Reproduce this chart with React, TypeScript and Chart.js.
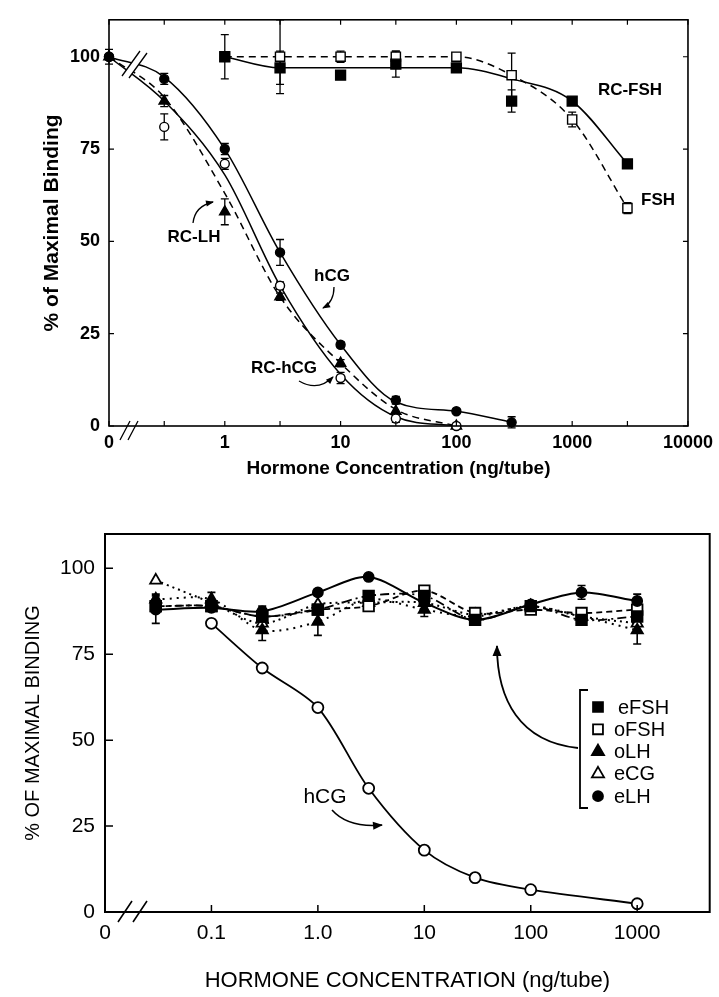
import React, { useEffect, useRef } from 'react';
import { Chart, registerables } from 'chart.js';

Chart.register(...registerables);

const FONT = '"Liberation Sans", Arial, Helvetica, sans-serif';

// ================= Panel A (top) =================
const topXTickValues = [0.1, 0.3, 1, 3, 10, 30, 100, 300, 1000, 3000, 10000];
const topXTickLabels = ['0', '', '1', '', '10', '', '100', '', '1000', '', '10000'];
const topYTickValues = [0, 25, 50, 75, 100];

const hcgDose = [0.1, 0.3, 1, 3, 10, 30, 100, 300];
const hcgBinding = [100, 94, 75, 47, 22, 7, 4, 1];
const hcgSem = [2, 1.5, 1.5, 3.5, 0.8, 1, 0.6, 1.5];
const hcgFit = [100, 94.5, 75, 47, 22, 6.5, 4, 1];

const rcHcgDose = [0.1, 0.3, 1, 3, 10, 30, 100];
const rcHcgBinding = [100, 81, 71, 38, 13, 2, 0];
const rcHcgSem = [0, 3.5, 1.5, 1, 1.5, 1, 0];
const rcHcgFit = [100, 88, 68, 38, 14, 2.5, 0];

const rcLhDose = [0.1, 0.3, 1, 3, 10, 30, 100];
const rcLhBinding = [100, 88, 58, 35, 17, 4, 0];
const rcLhSem = [0, 1.5, 3.5, 1, 1, 2, 0];
const rcLhFit = [100, 89, 63, 35, 17, 4.5, 0];

const rcFshDose = [1, 3, 10, 30, 100, 300, 1000, 3000];
const rcFshBinding = [100, 97, 95, 98, 97, 88, 88, 71];
const rcFshSem = [6, 4.5, 1, 3.5, 0.5, 3, 0.5, 0.5];
const rcFshFit = [100, 97, 97, 97, 97, 94, 88, 71];

const fshDose = [1, 3, 10, 30, 100, 300, 1000, 3000];
const fshBinding = [100, 100, 100, 100, 100, 95, 83, 59];
const fshSem = [0, 10, 1.5, 1.5, 1, 6, 2, 1.5];
const fshFit = [100, 100, 100, 100, 100, 95, 83, 59];

// ================= Panel B (bottom) =================
const botXTickValues = [0.01, 0.1, 1, 10, 100, 1000];
const botXTickLabels = ['0', '0.1', '1.0', '10', '100', '1000'];
const botYTickValues = [0, 25, 50, 75, 100];

const botDose = [0.03, 0.1, 0.3, 1, 3, 10, 30, 100, 300, 1000];
const eFshBinding = [89, 89, 86, 88, 92, 92, 85, 89, 85, 86];
const eFshSem = [0, 0, 0, 0, 1.5, 1.5, 1.5, 1, 1.5, 1.5];
const oFshBinding = [89, 89, 86, 88, 89, 93.5, 87, 88, 87, 88];
const oFshSem = [0, 0, 0, 0, 1, 1, 1, 1, 1, 1];
const oLhBinding = [91, 91, 82, 84.5, 91, 88, 86, 89, 86, 82];
const oLhSem = [1.5, 2, 3, 4, 1, 2, 1.5, 1, 2, 4];
const eCgBinding = [96.5, 90, 84, 89.5, 90, 90, 86.5, 89, 86, 84];
const eLhBinding = [88, 88.5, 87.5, 93, 97.5, 90, 85, 89.5, 93, 90.5];
const eLhSem = [4, 1, 1.5, 1, 0.5, 1, 1, 0.5, 2, 2];

const hcgBDose = [0.1, 0.3, 1, 3, 10, 30, 100, 1000];
const hcgBBinding = [84, 71, 59.5, 36, 18, 10, 6.5, 2.4];

const legendLabels = ['eFSH', 'oFSH', 'oLH', 'eCG', 'eLH'];
const legendStyles = ['rect', 'rect', 'triangle', 'triangle', 'circle'];
const legendFilled = [true, false, true, false, true];

const pts = (xs: number[], ys: number[]) => xs.map((x, i) => ({ x, y: ys[i] }));

function curvedArrow(ctx: CanvasRenderingContext2D, p: number[], headLen = 8, headW = 3.5) {
  ctx.beginPath();
  ctx.moveTo(p[0], p[1]);
  let ex: number, ey: number, px: number, py: number;
  if (p.length === 6) {
    ctx.quadraticCurveTo(p[2], p[3], p[4], p[5]);
    px = p[2]; py = p[3]; ex = p[4]; ey = p[5];
  } else {
    ctx.bezierCurveTo(p[2], p[3], p[4], p[5], p[6], p[7]);
    px = p[4]; py = p[5]; ex = p[6]; ey = p[7];
  }
  ctx.stroke();
  const a = Math.atan2(ey - py, ex - px);
  ctx.beginPath();
  ctx.moveTo(ex + Math.cos(a) * 1, ey + Math.sin(a) * 1);
  ctx.lineTo(ex - headLen * Math.cos(a) + headW * Math.sin(a), ey - headLen * Math.sin(a) - headW * Math.cos(a));
  ctx.lineTo(ex - headLen * Math.cos(a) - headW * Math.sin(a), ey - headLen * Math.sin(a) + headW * Math.cos(a));
  ctx.closePath();
  ctx.fill();
}

function drawMarker(ctx: CanvasRenderingContext2D, style: string, filled: boolean, x: number, y: number, r: number) {
  ctx.beginPath();
  if (style === 'rect') {
    const s = r * Math.SQRT1_2;
    ctx.rect(x - s, y - s, 2 * s, 2 * s);
  } else if (style === 'triangle') {
    ctx.moveTo(x, y - r);
    ctx.lineTo(x + r * 0.866, y + r * 0.5);
    ctx.lineTo(x - r * 0.866, y + r * 0.5);
    ctx.closePath();
  } else {
    ctx.arc(x, y, r, 0, Math.PI * 2);
  }
  ctx.fillStyle = filled ? '#000' : '#fff';
  ctx.fill();
  ctx.lineWidth = 1.8;
  ctx.strokeStyle = '#000';
  ctx.stroke();
}

const errorBarPlugin = {
  id: 'errorBars',
  beforeDatasetsDraw(chart: any) {
    const ctx = chart.ctx;
    const ys = chart.scales.y;
    chart.data.datasets.forEach((ds: any, i: number) => {
      if (!ds.errors) return;
      const meta = chart.getDatasetMeta(i);
      meta.data.forEach((el: any, j: number) => {
        const e = ds.errors[j];
        if (!e) return;
        const v = ds.data[j].y;
        const yT = ys.getPixelForValue(v + e);
        const yB = ys.getPixelForValue(v - e);
        const c = ds.capHalf || 4;
        ctx.save();
        ctx.strokeStyle = '#000';
        ctx.lineWidth = ds.errWidth || 1.3;
        ctx.beginPath();
        ctx.moveTo(el.x, yT); ctx.lineTo(el.x, yB);
        ctx.moveTo(el.x - c, yT); ctx.lineTo(el.x + c, yT);
        ctx.moveTo(el.x - c, yB); ctx.lineTo(el.x + c, yB);
        ctx.stroke();
        ctx.restore();
      });
    });
  },
};

const topDecor = {
  id: 'topDecor',
  afterDraw(chart: any) {
    const { ctx, chartArea: a, scales } = chart;
    const x = scales.x, y = scales.y;
    ctx.save();
    ctx.strokeStyle = '#000';
    ctx.fillStyle = '#000';
    ctx.lineWidth = 1.6;
    ctx.strokeRect(a.left, a.top, a.right - a.left, a.bottom - a.top);
    ctx.lineWidth = 1.2;
    ctx.beginPath();
    topXTickValues.forEach((v) => {
      const px = x.getPixelForValue(v);
      ctx.moveTo(px, a.bottom); ctx.lineTo(px, a.bottom - 5);
      ctx.moveTo(px, a.top); ctx.lineTo(px, a.top + 5);
    });
    topYTickValues.forEach((v) => {
      const py = y.getPixelForValue(v);
      ctx.moveTo(a.left, py); ctx.lineTo(a.left + 5, py);
      ctx.moveTo(a.right, py); ctx.lineTo(a.right - 5, py);
    });
    ctx.stroke();

    // axis break
    ctx.lineWidth = 1.3;
    ctx.beginPath();
    ctx.moveTo(120, a.bottom + 14); ctx.lineTo(130, a.bottom - 5);
    ctx.moveTo(128, a.bottom + 14); ctx.lineTo(138, a.bottom - 5);
    ctx.stroke();
    // curve break
    ctx.fillStyle = '#fff';
    ctx.beginPath();
    ctx.moveTo(124, 73); ctx.lineTo(139, 53); ctx.lineTo(146, 55); ctx.lineTo(131, 75);
    ctx.closePath();
    ctx.fill();
    ctx.fillStyle = '#000';
    ctx.beginPath();
    ctx.moveTo(122, 76); ctx.lineTo(140, 51);
    ctx.moveTo(129, 78); ctx.lineTo(147, 53);
    ctx.stroke();

    // labels
    ctx.font = `bold 17px ${FONT}`;
    ctx.textBaseline = 'middle';
    ctx.textAlign = 'center';
    ctx.fillText('RC-FSH', 630, 90);
    ctx.fillText('RC-LH', 194, 237);
    ctx.fillText('hCG', 332, 276);
    ctx.fillText('RC-hCG', 284, 368);
    ctx.textAlign = 'left';
    ctx.fillText('FSH', 641, 200);

    ctx.lineWidth = 1.3;
    curvedArrow(ctx, [193, 223, 195, 206, 213, 202], 7, 3);
    curvedArrow(ctx, [334, 287, 334, 302, 323, 308], 7, 3);
    curvedArrow(ctx, [299, 381, 318, 392, 333, 377], 7, 3);
    ctx.restore();
  },
};

const botDecor = {
  id: 'botDecor',
  afterDraw(chart: any) {
    const { ctx, chartArea: a, scales } = chart;
    const x = scales.x, y = scales.y;
    ctx.save();
    ctx.strokeStyle = '#000';
    ctx.fillStyle = '#000';
    ctx.lineWidth = 2;
    ctx.strokeRect(a.left, a.top, a.right - a.left, a.bottom - a.top);
    ctx.lineWidth = 1.5;
    ctx.beginPath();
    botXTickValues.slice(1).forEach((v) => {
      const px = x.getPixelForValue(v);
      ctx.moveTo(px, a.bottom); ctx.lineTo(px, a.bottom - 7);
    });
    botYTickValues.slice(1).forEach((v) => {
      const py = y.getPixelForValue(v);
      ctx.moveTo(a.left, py); ctx.lineTo(a.left + 8, py);
    });
    ctx.stroke();

    // axis break
    ctx.lineWidth = 1.6;
    ctx.beginPath();
    ctx.moveTo(118, a.bottom + 10); ctx.lineTo(132, a.bottom - 11);
    ctx.moveTo(133, a.bottom + 10); ctx.lineTo(147, a.bottom - 11);
    ctx.stroke();

    // hCG label
    ctx.font = `21px ${FONT}`;
    ctx.textBaseline = 'middle';
    ctx.textAlign = 'center';
    ctx.fillText('hCG', 325, 297);
    ctx.lineWidth = 1.6;
    curvedArrow(ctx, [332, 310, 348, 328, 382, 325], 9, 4);

    // legend bracket
    ctx.lineWidth = 1.8;
    ctx.beginPath();
    ctx.moveTo(588, 190); ctx.lineTo(580, 190); ctx.lineTo(580, 308); ctx.lineTo(588, 308);
    ctx.stroke();
    // big arrow from legend
    curvedArrow(ctx, [578, 248, 520, 242, 497, 200, 497, 146], 10, 4.5);

    ctx.font = `20px ${FONT}`;
    ctx.textAlign = 'left';
    legendLabels.forEach((lab, i) => {
      const cy = 207 + i * 22.3;
      drawMarker(ctx, legendStyles[i], legendFilled[i], 598, cy, legendStyles[i] === 'circle' ? 5 : 7);
      ctx.fillStyle = '#000';
      ctx.fillText(lab, i === 0 ? 618 : 614, cy + 1);
    });
    ctx.restore();
  },
};

function markerDs(label: string, xs: number[], ys: number[], errs: number[] | null, style: string, filled: boolean, r: number) {
  return {
    label,
    data: pts(xs, ys),
    showLine: false,
    pointStyle: style,
    pointRadius: r,
    pointHoverRadius: r,
    pointBackgroundColor: filled ? '#000' : '#fff',
    pointBorderColor: '#000',
    pointBorderWidth: 1.4,
    errors: errs,
    order: 0,
    clip: false,
  } as any;
}

function fitDs(label: string, xs: number[], ys: number[], dash: number[]) {
  return {
    label,
    data: pts(xs, ys),
    showLine: true,
    pointRadius: 0,
    borderColor: '#000',
    borderWidth: 1.5,
    borderDash: dash,
    cubicInterpolationMode: 'monotone',
    order: 1,
    clip: false,
  } as any;
}

function botDs(label: string, ys: number[], errs: number[] | null, style: string, filled: boolean, r: number, dash: number[], width: number) {
  return {
    label,
    data: pts(botDose, ys),
    showLine: true,
    borderColor: '#000',
    borderWidth: width,
    borderDash: dash,
    tension: 0.3,
    pointStyle: style,
    pointRadius: r,
    pointHoverRadius: r,
    pointBackgroundColor: filled ? '#000' : '#fff',
    pointBorderColor: '#000',
    pointBorderWidth: 1.8,
    errors: errs,
    capHalf: 4,
    errWidth: 1.6,
    clip: false,
  } as any;
}

export default function App() {
  const topRef = useRef<HTMLCanvasElement>(null);
  const botRef = useRef<HTMLCanvasElement>(null);

  useEffect(() => {
    const tickFontTop = { family: FONT, size: 18, weight: 'bold' as const };
    const chartA = new Chart(topRef.current!, {
      type: 'scatter',
      data: {
        datasets: [
          markerDs('hCG', hcgDose, hcgBinding, hcgSem, 'circle', true, 4.5),
          markerDs('RC-hCG', rcHcgDose, rcHcgBinding, rcHcgSem, 'circle', false, 4.5),
          markerDs('RC-LH', rcLhDose, rcLhBinding, rcLhSem, 'triangle', true, 6),
          markerDs('RC-FSH', rcFshDose, rcFshBinding, rcFshSem, 'rect', true, 7),
          markerDs('FSH', fshDose, fshBinding, fshSem, 'rect', false, 6.5),
          fitDs('hCG fit', hcgDose, hcgFit, []),
          fitDs('RC-hCG fit', rcHcgDose, rcHcgFit, []),
          fitDs('RC-LH fit', rcLhDose, rcLhFit, [7, 5]),
          fitDs('RC-FSH fit', rcFshDose, rcFshFit, []),
          fitDs('FSH fit', fshDose, fshFit, [7, 5]),
        ],
      },
      options: {
        responsive: false,
        maintainAspectRatio: false,
        devicePixelRatio: 1,
        animation: false,
        events: [],
        layout: { padding: { left: 0, top: 7, right: 27, bottom: 0 } },
        plugins: { legend: { display: false }, tooltip: { enabled: false } },
        scales: {
          x: {
            type: 'logarithmic',
            min: 0.1,
            max: 10000,
            afterBuildTicks: (s: any) => { s.ticks = topXTickValues.map((v) => ({ value: v })); },
            afterFit: (s: any) => { s.height = 74; },
            ticks: {
              autoSkip: false, maxRotation: 0, minRotation: 0, padding: 6, color: '#000', font: tickFontTop,
              callback: (_v: any, i: number) => topXTickLabels[i],
            },
            grid: { display: false, drawTicks: false },
            border: { display: false },
            title: {
              display: true, text: 'Hormone Concentration (ng/tube)', color: '#000',
              font: { family: FONT, size: 19, weight: 'bold' }, padding: { top: 0, bottom: 20 },
            },
          },
          y: {
            type: 'linear',
            min: 0,
            max: 110,
            afterBuildTicks: (s: any) => { s.ticks = topYTickValues.map((v) => ({ value: v })); },
            afterFit: (s: any) => { s.width = 109; },
            ticks: { padding: 9, color: '#000', font: tickFontTop, callback: (v: any) => String(v) },
            grid: { display: false, drawTicks: false },
            border: { display: false },
            title: {
              display: true, text: '% of Maximal Binding', color: '#000',
              font: { family: FONT, size: 21, weight: 'bold' }, padding: { top: 40, bottom: 0 },
            },
          },
        },
      } as any,
      plugins: [errorBarPlugin, topDecor],
    });

    const tickFontBot = { family: FONT, size: 21, weight: 'normal' as const };
    const chartB = new Chart(botRef.current!, {
      type: 'scatter',
      data: {
        datasets: [
          {
            label: 'hCG',
            data: pts(hcgBDose, hcgBBinding),
            showLine: true,
            borderColor: '#000',
            borderWidth: 1.8,
            tension: 0.3,
            pointStyle: 'circle',
            pointRadius: 5.5,
            pointBackgroundColor: '#fff',
            pointBorderColor: '#000',
            pointBorderWidth: 1.8,
            clip: false,
          } as any,
          botDs('eLH', eLhBinding, eLhSem, 'circle', true, 5, [], 2),
          botDs('eFSH', eFshBinding, eFshSem, 'rect', true, 7.5, [9, 4, 2, 4], 1.8),
          botDs('oFSH', oFshBinding, oFshSem, 'rect', false, 7.5, [6, 4], 1.8),
          botDs('oLH', oLhBinding, oLhSem, 'triangle', true, 6.5, [2, 5], 2),
          botDs('eCG', eCgBinding, null, 'triangle', false, 6.5, [2, 4], 2),
        ],
      },
      options: {
        responsive: false,
        maintainAspectRatio: false,
        devicePixelRatio: 1,
        animation: false,
        events: [],
        layout: { padding: { left: 0, top: 34, right: 6, bottom: 0 } },
        plugins: { legend: { display: false }, tooltip: { enabled: false } },
        scales: {
          x: {
            type: 'logarithmic',
            min: 0.01,
            max: 4800,
            afterBuildTicks: (s: any) => { s.ticks = botXTickValues.map((v) => ({ value: v })); },
            afterFit: (s: any) => { s.height = 85; },
            ticks: {
              autoSkip: false, maxRotation: 0, minRotation: 0, padding: 9, color: '#000', font: tickFontBot,
              callback: (_v: any, i: number) => botXTickLabels[i],
            },
            grid: { display: false, drawTicks: false },
            border: { display: false },
            title: {
              display: true, text: 'HORMONE CONCENTRATION (ng/tube)', color: '#000',
              font: { family: FONT, size: 22, weight: 'normal' }, padding: { top: 0, bottom: 3 },
            },
          },
          y: {
            type: 'linear',
            min: 0,
            max: 110,
            afterBuildTicks: (s: any) => { s.ticks = botYTickValues.map((v) => ({ value: v })); },
            afterFit: (s: any) => { s.width = 105; },
            ticks: { padding: 10, color: '#000', font: tickFontBot, callback: (v: any) => String(v) },
            grid: { display: false, drawTicks: false },
            border: { display: false },
            title: {
              display: true, text: '% OF MAXIMAL BINDING', color: '#000',
              font: { family: FONT, size: 20, weight: 'normal' }, padding: { top: 21, bottom: 0 },
            },
          },
        },
      } as any,
      plugins: [errorBarPlugin, botDecor],
    });

    return () => {
      chartA.destroy();
      chartB.destroy();
    };
  }, []);

  return (
    <div style={{ position: 'absolute', left: 0, top: 0, width: 719, height: 997, background: '#fff' }}>
      <canvas ref={topRef} width={719} height={500} style={{ position: 'absolute', left: 0, top: 0, width: 719, height: 500 }} />
      <canvas ref={botRef} width={719} height={497} style={{ position: 'absolute', left: 0, top: 500, width: 719, height: 497 }} />
    </div>
  );
}
